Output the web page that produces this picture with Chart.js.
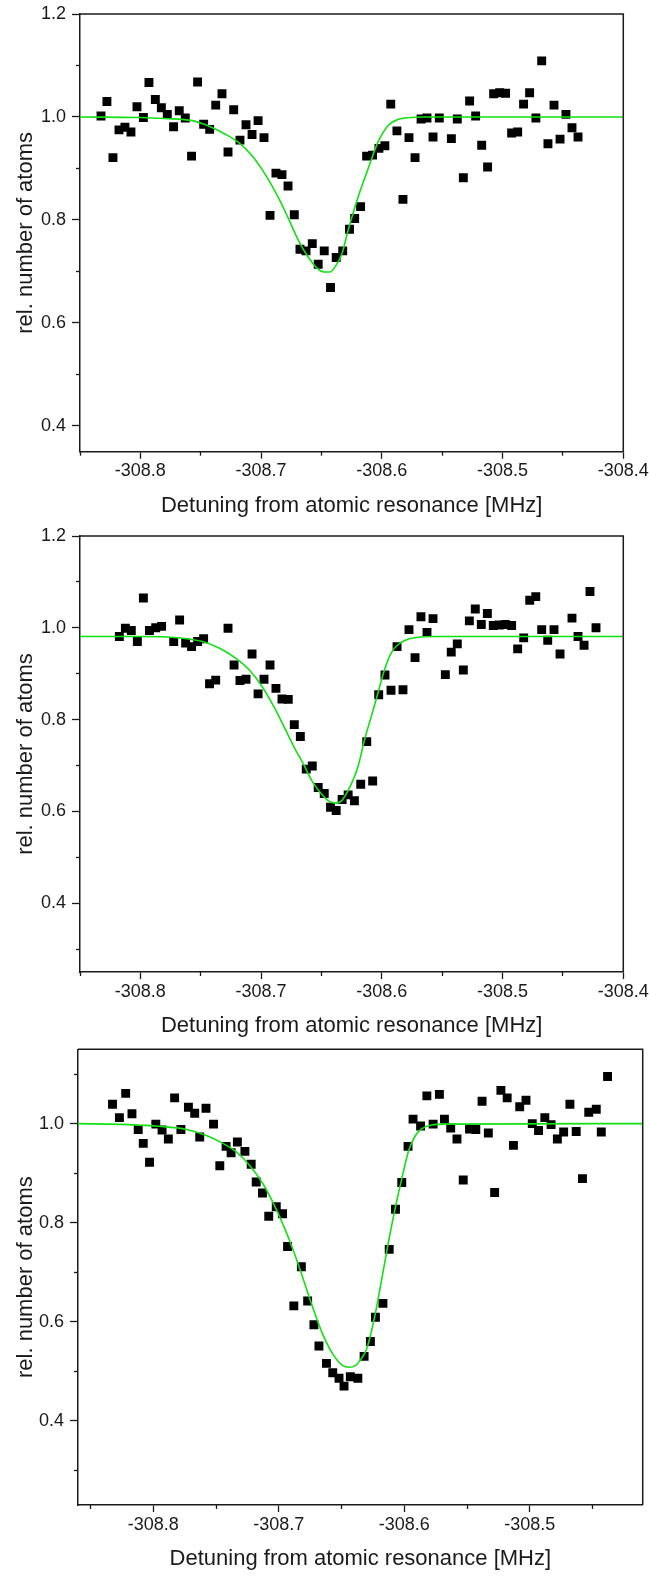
<!DOCTYPE html>
<html>
<head>
<meta charset="utf-8">
<script src="https://cdn.jsdelivr.net/npm/chart.js@4.4.1/dist/chart.umd.min.js"></script>
<style>
  body { margin: 0; background: #fff; }
  #page { position: relative; width: 649px; height: 1581px; overflow: hidden; background: #fff; }
  #page canvas { position: absolute; left: 0; }
</style>
</head>
<body>
<div id="page">
  <canvas id="panel1" width="649" height="520" style="top:0px"></canvas>
  <canvas id="panel2" width="649" height="520" style="top:520px"></canvas>
  <canvas id="panel3" width="649" height="541" style="top:1040px"></canvas>
</div>
<script>
// ---- tick positions ----
var xMajorTop = [-308.8, -308.7, -308.6, -308.5, -308.4];
var xMajorBottom = [-308.8, -308.7, -308.6, -308.5];
var xMinorTicks = [-308.85, -308.75, -308.65, -308.55, -308.45];
var yMajor1 = [0.4, 0.6, 0.8, 1.0, 1.2];
var yMinor1 = [0.5, 0.7, 0.9, 1.1];
var yMajor2 = [0.4, 0.6, 0.8, 1.0, 1.2];
var yMinor2 = [0.3, 0.5, 0.7, 0.9, 1.1];
var yMajor3 = [0.4, 0.6, 0.8, 1.0];
var yMinor3 = [0.3, 0.5, 0.7, 0.9, 1.1];

// ---- panel 1: measured points ----
var p1X = [-308.8326, -308.8277, -308.8227, -308.8177, -308.8128, -308.8078, -308.8028, -308.7975, -308.7929, -308.7876,
  -308.7826, -308.7777, -308.7725, -308.7678, -308.7628, -308.7576, -308.7526, -308.7476, -308.7426, -308.7376,
  -308.7324, -308.7274, -308.7227, -308.7175, -308.7125, -308.7075, -308.7025, -308.6976, -308.6926, -308.6877,
  -308.6827, -308.6777, -308.6725, -308.6678, -308.6628, -308.6576, -308.6527, -308.6477, -308.6425, -308.6378,
  -308.6324, -308.6268, -308.6225, -308.6176, -308.6126, -308.6077, -308.6024, -308.5975, -308.5926, -308.5875,
  -308.5825, -308.5775, -308.5725, -308.5675, -308.5626, -308.5576, -308.5524, -308.5424, -308.5375, -308.5325,
  -308.5273, -308.5223, -308.5173, -308.5124, -308.5074, -308.5024, -308.4975, -308.4925, -308.4875, -308.4826,
  -308.4776, -308.4724, -308.4676, -308.4624, -308.4574, -308.4524, -308.4475, -308.4425, -308.4375];
var p1Y = [1.002, 1.030, 0.921, 0.975, 0.980, 0.971, 1.020, 0.999, 1.067, 1.034,
  1.018, 1.005, 0.981, 1.012, 0.998, 0.924, 1.068, 0.986, 0.976, 1.023,
  1.045, 0.932, 1.014, 0.955, 0.985, 0.966, 0.993, 0.960, 0.809, 0.891,
  0.888, 0.866, 0.810, 0.743, 0.740, 0.754, 0.714, 0.740, 0.669, 0.727,
  0.740, 0.782, 0.803, 0.826, 0.924, 0.926, 0.939, 0.944, 1.025, 0.973,
  0.840, 0.960, 0.921, 0.996, 0.998, 0.961, 0.998, 0.958, 0.996, 0.882,
  1.031, 1.002, 0.945, 0.903, 1.045, 1.047, 1.046, 0.969, 0.971, 1.025,
  1.047, 0.998, 1.109, 0.948, 1.023, 0.957, 1.005, 0.979, 0.961];
// panel 1: fit curve
var p1FitX = [-308.85, -308.80, -308.78, -308.757, -308.744, -308.730, -308.719, -308.708, -308.697, -308.686,
  -308.678, -308.669, -308.661, -308.653, -308.648, -308.643, -308.639, -308.633, -308.628, -308.620,
  -308.611, -308.603, -308.595, -308.587, -308.576, -308.565, -308.40];
var p1FitY = [1.000, 0.999, 0.997, 0.993, 0.983, 0.967, 0.951, 0.926, 0.890, 0.845,
  0.806, 0.760, 0.728, 0.705, 0.699, 0.699, 0.708, 0.735, 0.779, 0.842,
  0.902, 0.952, 0.983, 0.995, 0.999, 1.000, 1.000];

// ---- panel 2 ----
var p2X = [-308.8174, -308.8124, -308.8075, -308.8025, -308.7975, -308.7925, -308.7873, -308.7824, -308.7724, -308.7675,
  -308.7625, -308.7576, -308.7526, -308.7476, -308.7427, -308.7376, -308.7274, -308.7224, -308.7175, -308.7125,
  -308.7075, -308.7025, -308.6976, -308.6926, -308.6877, -308.6827, -308.6775, -308.6725, -308.6675, -308.6626,
  -308.6576, -308.6527, -308.6477, -308.6425, -308.6378, -308.6329, -308.6279, -308.6227, -308.6175, -308.6125,
  -308.6076, -308.6026, -308.5974, -308.5924, -308.5874, -308.5825, -308.5775, -308.5725, -308.5676, -308.5626,
  -308.5576, -308.5474, -308.5425, -308.5375, -308.5325, -308.5275, -308.5226, -308.5176, -308.5126, -308.5077,
  -308.5027, -308.4977, -308.4925, -308.4875, -308.4825, -308.4775, -308.4725, -308.4676, -308.4626, -308.4574,
  -308.4524, -308.4425, -308.4375, -308.4325, -308.4276, -308.4226];
var p2Y = [0.981, 0.999, 0.994, 0.970, 1.065, 0.994, 1.000, 1.003, 0.970, 1.017,
  0.967, 0.959, 0.970, 0.976, 0.878, 0.886, 0.999, 0.919, 0.885, 0.888,
  0.943, 0.856, 0.888, 0.919, 0.868, 0.845, 0.844, 0.789, 0.763, 0.692,
  0.699, 0.652, 0.639, 0.609, 0.602, 0.626, 0.636, 0.623, 0.659, 0.752,
  0.666, 0.854, 0.897, 0.864, 0.959, 0.865, 0.996, 0.935, 1.024, 0.990,
  1.020, 0.898, 0.947, 0.965, 0.908, 1.015, 1.041, 1.007, 1.031, 1.005,
  1.006, 1.007, 1.005, 0.954, 0.978, 1.060, 1.068, 0.996, 0.973, 0.996,
  0.943, 1.021, 0.981, 0.962, 1.079, 1.000];
var p2FitX = [-308.85, -308.80, -308.772, -308.7486, -308.7348, -308.7211, -308.7101, -308.6992, -308.6882, -308.680,
  -308.6717, -308.6649, -308.658, -308.650, -308.643, -308.6385, -308.6334, -308.628, -308.6197, -308.6142,
  -308.6087, -308.6032, -308.5977, -308.5923, -308.5868, -308.5785, -308.5676, -308.554, -308.40];
var p2FitY = [0.981, 0.981, 0.979, 0.970, 0.956, 0.934, 0.909, 0.872, 0.822, 0.779,
  0.735, 0.703, 0.667, 0.638, 0.621, 0.618, 0.623, 0.645, 0.698, 0.757,
  0.807, 0.858, 0.909, 0.945, 0.963, 0.975, 0.980, 0.981, 0.981];

// ---- panel 3 ----
var p3X = [-308.8325, -308.827, -308.822, -308.817, -308.812, -308.808, -308.803, -308.798, -308.793, -308.788,
  -308.783, -308.778, -308.772, -308.767, -308.763, -308.758, -308.752, -308.747, -308.742, -308.738,
  -308.733, -308.727, -308.722, -308.718, -308.713, -308.708, -308.702, -308.697, -308.693, -308.688,
  -308.682, -308.677, -308.672, -308.668, -308.662, -308.657, -308.652, -308.648, -308.643, -308.637,
  -308.632, -308.627, -308.623, -308.617, -308.612, -308.607, -308.602, -308.597, -308.593, -308.587,
  -308.582, -308.577, -308.572, -308.568, -308.563, -308.558, -308.553, -308.548, -308.543, -308.538,
  -308.533, -308.528, -308.523, -308.518, -308.513, -308.508, -308.503, -308.498, -308.493, -308.488,
  -308.483, -308.478, -308.473, -308.468, -308.463, -308.458, -308.453, -308.447, -308.443, -308.438];
var p3Y = [1.039, 1.012, 1.061, 1.020, 0.988, 0.960, 0.922, 0.999, 0.987, 0.969,
  1.052, 0.988, 1.033, 1.021, 0.973, 1.031, 0.999, 0.915, 0.954, 0.941,
  0.963, 0.944, 0.918, 0.882, 0.860, 0.813, 0.832, 0.818, 0.752, 0.632,
  0.711, 0.642, 0.594, 0.551, 0.516, 0.497, 0.486, 0.470, 0.489, 0.486,
  0.530, 0.560, 0.609, 0.637, 0.746, 0.827, 0.881, 0.954, 1.009, 0.995,
  1.056, 0.999, 1.059, 1.009, 0.991, 0.969, 0.886, 0.989, 0.988, 1.045,
  0.981, 0.861, 1.067, 1.052, 0.956, 1.034, 1.047, 1.000, 0.986, 1.012,
  0.998, 0.969, 0.983, 1.039, 0.984, 0.889, 1.023, 1.029, 0.983, 1.095];
var p3FitX = [-308.86, -308.82, -308.795, -308.7735, -308.7577, -308.7445, -308.7339, -308.7233, -308.7128, -308.7049,
  -308.6969, -308.689, -308.681, -308.6731, -308.6652, -308.6573, -308.6493, -308.644, -308.6387, -308.6361,
  -308.630, -308.624, -308.6181, -308.6123, -308.607, -308.6017, -308.5964, -308.5911, -308.5859, -308.578,
  -308.5673, -308.41];
var p3FitY = [1.000, 0.998, 0.9945, 0.988, 0.976, 0.960, 0.943, 0.916, 0.879, 0.842,
  0.798, 0.748, 0.690, 0.630, 0.576, 0.536, 0.512, 0.508, 0.512, 0.519,
  0.545, 0.605, 0.684, 0.765, 0.832, 0.892, 0.946, 0.976, 0.990, 0.997,
  0.999, 1.000];

var ink = '#1a1a1a';
var fitGreen = '#12e012';
Chart.defaults.font.family = '"Liberation Sans", Arial, Helvetica, sans-serif';
Chart.defaults.color = ink;

function toPoints(xs, ys) {
  var pts = [];
  for (var i = 0; i < xs.length; i++) {
    pts.push({x: xs[i], y: ys[i]});
  }
  return pts;
}

function setTicks(values) {
  return function (scale) {
    scale.ticks = values.map(function (v) { return {value: v}; });
  };
}

function fixWidth(w) {
  return function (scale) {
    scale.width = w;
    scale.paddingTop = 0;
    scale.paddingBottom = 0;
    scale.paddingLeft = 0;
    scale.paddingRight = 0;
  };
}

function fixHeight(h) {
  return function (scale) {
    scale.height = h;
    scale.paddingTop = 0;
    scale.paddingBottom = 0;
    scale.paddingLeft = 0;
    scale.paddingRight = 0;
  };
}

function oneDecimal(v) {
  return Number(v).toFixed(1);
}

// top and right lines of the plot box
var framePlugin = {
  id: 'frame',
  afterDraw: function (chart) {
    var a = chart.chartArea;
    var ctx = chart.ctx;
    ctx.save();
    ctx.strokeStyle = ink;
    ctx.lineWidth = 1.5;
    ctx.beginPath();
    ctx.moveTo(a.left, a.top);
    ctx.lineTo(a.right, a.top);
    ctx.lineTo(a.right, a.bottom);
    ctx.stroke();
    ctx.restore();
  }
};

var xAxisHeight = 67;

function makePanel(canvasId, cfg) {
  var ctx = document.getElementById(canvasId).getContext('2d');
  return new Chart(ctx, {
    type: 'scatter',
    data: {
      datasets: [{
        label: 'fit',
        type: 'line',
        data: toPoints(cfg.fitX, cfg.fitY),
        borderColor: fitGreen,
        borderWidth: 1.6,
        pointRadius: 0,
        fill: false,
        cubicInterpolationMode: 'monotone'
      }, {
        label: 'data',
        data: toPoints(cfg.x, cfg.y),
        pointStyle: 'rect',
        pointRadius: 6.3,
        pointBorderWidth: 0,
        backgroundColor: '#000',
        borderColor: '#000'
      }]
    },
    options: {
      responsive: false,
      devicePixelRatio: 1,
      animation: false,
      events: [],
      layout: {
        padding: {left: 0, right: cfg.padRight, top: cfg.padTop, bottom: cfg.padBottom}
      },
      plugins: {
        legend: {display: false},
        tooltip: {enabled: false}
      },
      scales: {
        x: {
          type: 'linear',
          position: 'bottom',
          weight: 1,
          min: cfg.xMin,
          max: cfg.xMax,
          afterBuildTicks: setTicks(cfg.xMajor),
          afterFit: fixHeight(xAxisHeight),
          ticks: {callback: oneDecimal, padding: 2, autoSkip: false, maxRotation: 0, font: {size: 18}, color: ink},
          grid: {drawOnChartArea: false, tickLength: 7, tickWidth: 1.3, tickColor: ink},
          border: {display: true, width: 1.5, color: ink},
          title: {display: true, text: 'Detuning from atomic resonance [MHz]', font: {size: 22}, color: ink, padding: {top: 0, bottom: 0}}
        },
        xMinor: {
          type: 'linear',
          position: 'bottom',
          weight: 0,
          min: cfg.xMin,
          max: cfg.xMax,
          afterBuildTicks: setTicks(xMinorTicks),
          afterFit: fixHeight(0),
          ticks: {display: false},
          grid: {drawOnChartArea: false, tickLength: 4, tickWidth: 1.3, tickColor: ink},
          border: {display: false}
        },
        y: {
          type: 'linear',
          position: 'left',
          weight: 1,
          min: cfg.yMin,
          max: cfg.yMax,
          afterBuildTicks: setTicks(cfg.yMajor),
          afterFit: fixWidth(cfg.left),
          ticks: {callback: oneDecimal, padding: 6, font: {size: 18}, color: ink},
          grid: {drawOnChartArea: false, tickLength: 8, tickWidth: 1.3, tickColor: ink},
          border: {display: true, width: 1.5, color: ink},
          title: {display: true, text: 'rel. number of atoms', font: {size: 22}, color: ink, padding: {top: 13, bottom: 0}}
        },
        yMinor: {
          type: 'linear',
          position: 'left',
          weight: 0,
          min: cfg.yMin,
          max: cfg.yMax,
          afterBuildTicks: setTicks(cfg.yMinor),
          afterFit: fixWidth(0),
          ticks: {display: false},
          grid: {drawOnChartArea: false, tickLength: 4, tickWidth: 1.3, tickColor: ink},
          border: {display: false}
        }
      }
    },
    plugins: [framePlugin]
  });
}

makePanel('panel1', {
  x: p1X, y: p1Y, fitX: p1FitX, fitY: p1FitY,
  xMin: -308.85, xMax: -308.4, yMin: 0.35, yMax: 1.2,
  xMajor: xMajorTop, yMajor: yMajor1, yMinor: yMinor1,
  left: 80, padRight: 25.7, padTop: 14, padBottom: 520 - 451.7 - xAxisHeight
});

makePanel('panel2', {
  x: p2X, y: p2Y, fitX: p2FitX, fitY: p2FitY,
  xMin: -308.85, xMax: -308.4, yMin: 0.25, yMax: 1.2,
  xMajor: xMajorTop, yMajor: yMajor2, yMinor: yMinor2,
  left: 80, padRight: 25.7, padTop: 16, padBottom: 520 - 452 - xAxisHeight
});

makePanel('panel3', {
  x: p3X, y: p3Y, fitX: p3FitX, fitY: p3FitY,
  xMin: -308.86, xMax: -308.41, yMin: 0.23, yMax: 1.15,
  xMajor: xMajorBottom, yMajor: yMajor3, yMinor: yMinor3,
  left: 78, padRight: 5, padTop: 9.3, padBottom: 541 - 465 - xAxisHeight
});
</script>
</body>
</html>
